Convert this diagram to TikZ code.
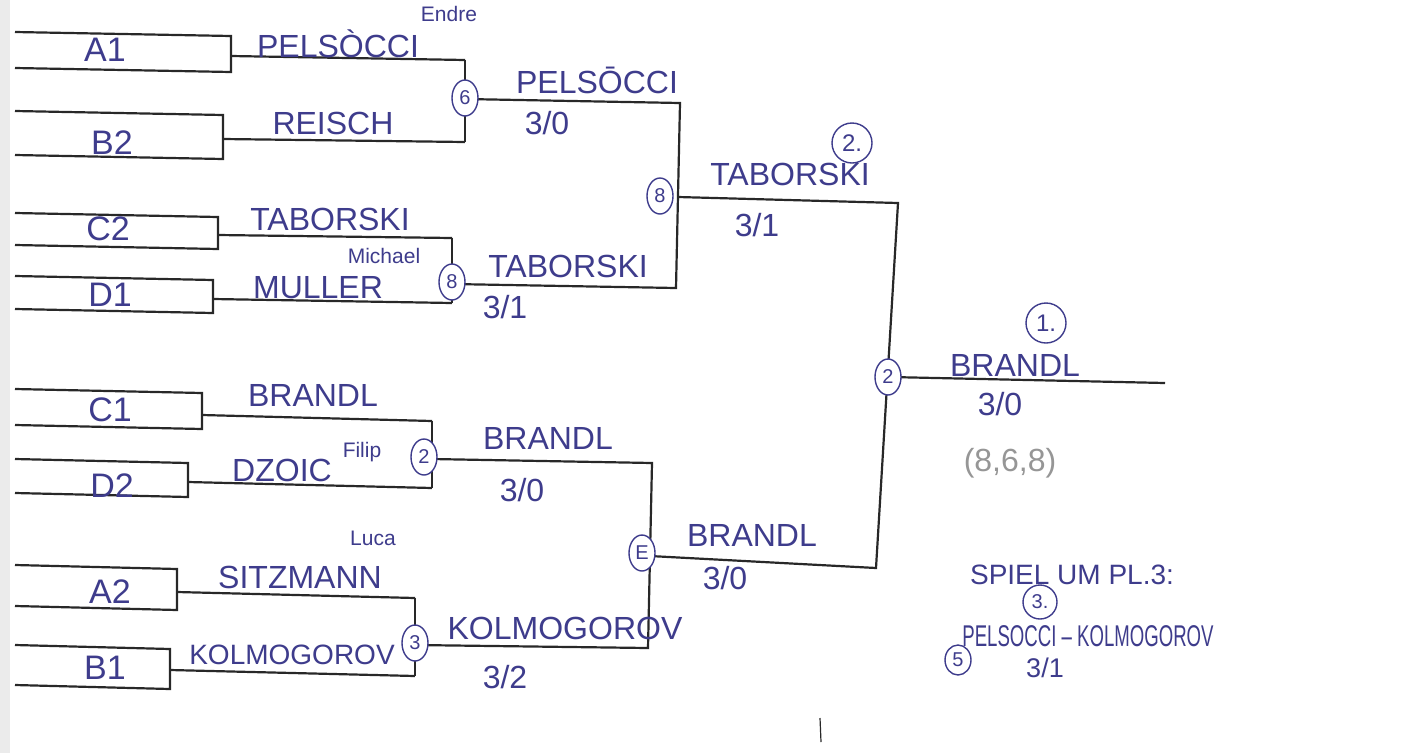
\documentclass[tikz,border=0pt]{standalone}
\usepackage{fontspec}
\setmainfont{Liberation Sans}
\usetikzlibrary{shapes.geometric}
\definecolor{ink}{RGB}{62,60,140}
\definecolor{pen}{RGB}{40,40,40}
\definecolor{pencil}{RGB}{150,150,150}
\begin{document}
\begin{tikzpicture}[x=1pt,y=-1pt,
 bline/.style={draw=pen,line width=2.2pt},
 plname/.style={text=ink,font=\fontsize{32}{36}\selectfont,inner sep=0},
 seedlab/.style={text=ink,font=\fontsize{34}{38}\selectfont,inner sep=0},
 small/.style={text=ink,font=\fontsize{21}{24}\selectfont,inner sep=0},
 ringnum/.style={ellipse,draw=ink,fill=white,line width=1.4pt,text=ink,font=\fontsize{20}{22}\selectfont,minimum width=26pt,minimum height=36pt,inner sep=0},
 place/.style={circle,draw=ink,line width=1.4pt,text=ink,font=\fontsize{24}{26}\selectfont,minimum size=40pt,inner sep=0},
]
\fill[white] (0,0) rectangle (1408,753);
\fill[black!8] (0,0) rectangle (10,753);
\useasboundingbox (0,0) rectangle (1408,753);

% seed boxes (open on the left)
\draw[bline] (15,32) -- (231,36) -- (231,72) -- (15,68);
\draw[bline] (15,111) -- (223,115) -- (223,159) -- (15,155);
\draw[bline] (15,213) -- (218,217) -- (218,249) -- (15,245);
\draw[bline] (15,276) -- (213,280) -- (213,313) -- (15,309);
\draw[bline] (15,389) -- (202,393) -- (202,429) -- (15,425);
\draw[bline] (15,459) -- (188,463) -- (188,497) -- (15,493);
\draw[bline] (15,565) -- (177,569) -- (177,610) -- (15,606);
\draw[bline] (15,645) -- (170,649) -- (170,689) -- (15,685);

\coordinate (a1) at (231,56);
\coordinate (b2) at (223,139);
\coordinate (c2) at (218,235);
\coordinate (d1) at (213,299);
\coordinate (c1) at (202,415);
\coordinate (d2) at (188,482);
\coordinate (a2) at (177,592);
\coordinate (b1) at (170,670);

% round 1
\coordinate (q1t) at (465,60);
\coordinate (q1b) at (465,142);
\coordinate (q2t) at (452,238);
\coordinate (q2b) at (452,303);
\coordinate (q3t) at (432,421);
\coordinate (q3b) at (432,488);
\coordinate (q4t) at (415,598);
\coordinate (q4b) at (415,676);
\draw[bline] (a1) -- (q1t);
\draw[bline] (b2) -- (q1b);
\draw[bline] (q1t) -- (q1b);
\draw[bline] (c2) -- (q2t);
\draw[bline] (d1) -- (q2b);
\draw[bline] (q2t) -- (q2b);
\draw[bline] (c1) -- (q3t);
\draw[bline] (d2) -- (q3b);
\draw[bline] (q3t) -- (q3b);
\draw[bline] (a2) -- (q4t);
\draw[bline] (b1) -- (q4b);
\draw[bline] (q4t) -- (q4b);

% round 2
\coordinate (q1o) at (465,99);
\coordinate (q2o) at (452,284);
\coordinate (q3o) at (432,459);
\coordinate (q4o) at (415,645);
\coordinate (s1t) at (680,103);
\coordinate (s1b) at (676,288);
\coordinate (s2t) at (652,463);
\coordinate (s2b) at (648,648);
\draw[bline] (q1o) -- (s1t) -- (s1b) -- (q2o);
\draw[bline] (q3o) -- (s2t) -- (s2b) -- (q4o);

% final
\coordinate (s1o) at (678,197);
\coordinate (s2o) at (650,556);
\coordinate (ft) at (898,203);
\coordinate (fb) at (876,568);
\draw[bline] (s1o) -- (ft) -- (fb) -- (s2o);
\coordinate (fo) at (890,377);
\coordinate (win) at (1165,383);
\draw[bline] (fo) -- (win);

% stray pen mark
\coordinate (pm1) at (820,718);
\coordinate (pm2) at (821,742);
\draw[pen,line width=1.2pt] (pm1) -- (pm2);

% seed labels
\node[seedlab] (la1) at (105,50) {A1};
\node[seedlab] (lb2) at (112,143) {B2};
\node[seedlab] (lc2) at (108,229) {C2};
\node[seedlab] (ld1) at (110,295) {D1};
\node[seedlab] (lc1) at (110,410) {C1};
\node[seedlab] (ld2) at (112,486) {D2};
\node[seedlab] (la2) at (110,592) {A2};
\node[seedlab] (lb1) at (105,668) {B1};

% round 1 names
\node[plname] (n1) at (338,44) {PELS\`OCCI};
\node[small] (n1f) at (449,14) {Endre};
\node[plname] (n2) at (333,123) {REISCH};
\node[plname] (n3) at (330,219) {TABORSKI};
\node[plname] (n4) at (318,288) {MULLER};
\node[small] (n4f) at (384,256) {Michael};
\node[plname] (n5) at (313,395) {BRANDL};
\node[plname] (n6) at (282,470) {DZOIC};
\node[small] (n6f) at (362,452) {Filip};
\node[plname] (n7) at (300,577) {SITZMANN};
\node[small] (n7f) at (373,538) {Luca};
\node[plname,font=\fontsize{28}{32}\selectfont] (n8) at (292,655) {KOLMOGOROV};

% round 1 results
\node[ringnum] (r1) at (465,98) {6};
\node[ringnum] (r2) at (452,282) {8};
\node[ringnum] (r3) at (424,457) {2};
\node[ringnum] (r4) at (415,643) {3};

% round 2 names
\node[plname] (m1) at (597,80) {PELS\=OCCI};
\node[plname] (m1s) at (547,123) {3/0};
\node[plname] (m2) at (568,266) {TABORSKI};
\node[plname] (m2s) at (505,307) {3/1};
\node[plname] (m3) at (548,438) {BRANDL};
\node[plname] (m3s) at (522,490) {3/0};
\node[plname] (m4) at (565,628) {KOLMOGOROV};
\node[plname] (m4s) at (505,677) {3/2};

\node[ringnum] (r5) at (660,196) {8};
\node[ringnum] (r6) at (642,553) {E};

% final names
\node[plname] (f1) at (790,174) {TABORSKI};
\node[plname] (f1s) at (757,225) {3/1};
\node[place] (p2) at (852,143) {2.};
\node[plname] (f2) at (752,535) {BRANDL};
\node[plname] (f2s) at (725,578) {3/0};
\node[ringnum] (r7) at (888,377) {2};

% winner
\node[place] (p1) at (1046,323) {1.};
\node[plname] (w) at (1015,365) {BRANDL};
\node[plname] (ws) at (1000,404) {3/0};
\node[plname,text=pencil] (wsets) at (1010,463) {(8,6,8)};

% third place
\node[plname,font=\fontsize{28}{32}\selectfont] (t0) at (1072,575) {SPIEL UM PL.3:};
\node[place,minimum size=34pt,font=\fontsize{20}{22}\selectfont] (p3) at (1040,602) {3.};
\node[plname,font=\fontsize{30}{34}\selectfont] (t1) at (1088,636) {\scalebox{0.62}[1]{PELSOCCI -- KOLMOGOROV}};
\node[plname,font=\fontsize{27}{30}\selectfont] (t1s) at (1045,668) {3/1};
\node[ringnum,minimum width=26pt,minimum height=30pt] (r8) at (958,660) {5};
\end{tikzpicture}
\end{document}
